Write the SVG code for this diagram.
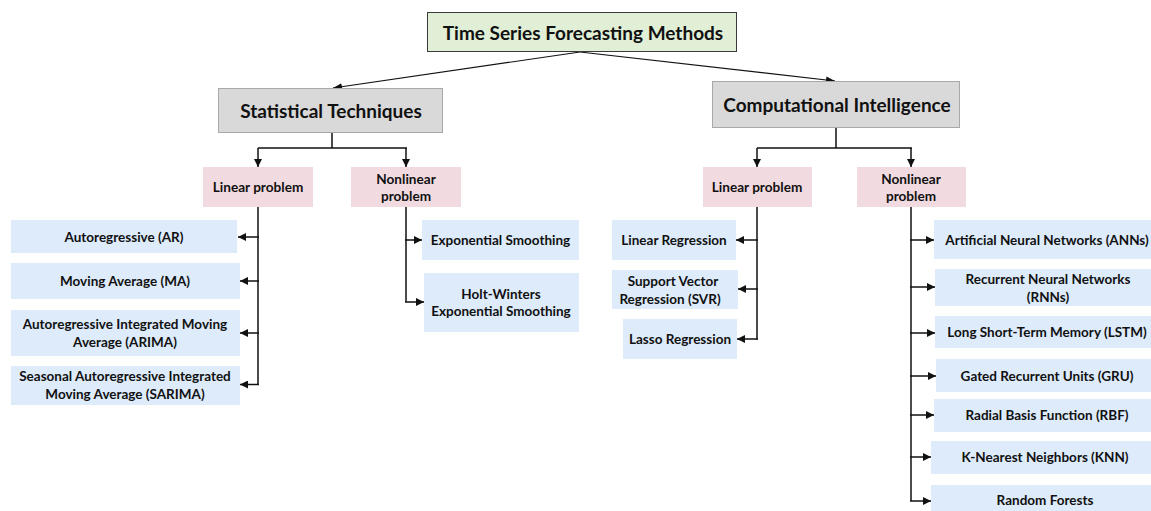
<svg xmlns="http://www.w3.org/2000/svg" width="1151" height="511" viewBox="0 0 1151 511">
<defs>
<style>
text{font-family:"Lato","Liberation Sans",sans-serif;font-weight:bold;fill:#111;text-anchor:middle;dominant-baseline:central}
.t{font-size:19px}
.h{font-size:19px}
.p{font-size:13.6px}
.l{font-size:13.5px}
.root{fill:#e0efd6;stroke:#3a3a3a;stroke-width:1}
.cat{fill:#d9d9d9;stroke:#a8a8a8;stroke-width:1}
.prob{fill:#f2dbe0}
.leaf{fill:#ddebfb}
.c{fill:none;stroke:#111;stroke-width:1.5}
.d{fill:none;stroke:#111;stroke-width:1.2}
</style>
<marker id="ah" viewBox="0 0 10 10" refX="10" refY="5" markerWidth="8" markerHeight="8" markerUnits="userSpaceOnUse" orient="auto">
<path d="M0,0 L10,5 L0,10 z" fill="#111"/>
</marker>
<marker id="as" viewBox="0 0 10 10" refX="10" refY="5" markerWidth="9" markerHeight="9" markerUnits="userSpaceOnUse" orient="auto">
<path d="M0,1 L10,5 L0,9 z" fill="#111"/>
</marker>
</defs>
<rect width="1151" height="511" fill="#fff"/>

<g id="connectors">
<path class="d" d="M580,52 L333,88" marker-end="url(#as)"/>
<path class="d" d="M580,52 L835,81" marker-end="url(#as)"/>
<path class="c" d="M332,133 V148 M258,148 H407"/>
<path class="c" d="M258,148 V167" marker-end="url(#ah)"/>
<path class="c" d="M406,148 V167" marker-end="url(#ah)"/>
<path class="c" d="M836,128 V148 M757,148 H912"/>
<path class="c" d="M757,148 V167" marker-end="url(#ah)"/>
<path class="c" d="M911,148 V167" marker-end="url(#ah)"/>
<path class="c" d="M258,207 V385"/>
<path class="c" d="M259,237 H238" marker-end="url(#ah)"/>
<path class="c" d="M259,281 H240" marker-end="url(#ah)"/>
<path class="c" d="M259,333 H240" marker-end="url(#ah)"/>
<path class="c" d="M259,384.5 H240" marker-end="url(#ah)"/>
<path class="c" d="M406,207 V302"/>
<path class="c" d="M405,240 H422" marker-end="url(#ah)"/>
<path class="c" d="M405,302 H424" marker-end="url(#ah)"/>
<path class="c" d="M757,207 V339.5"/>
<path class="c" d="M758,240 H736" marker-end="url(#ah)"/>
<path class="c" d="M758,289 H738" marker-end="url(#ah)"/>
<path class="c" d="M758,339 H737" marker-end="url(#ah)"/>
<path class="c" d="M911,207 V501"/>
<path class="c" d="M910,240 H934" marker-end="url(#ah)"/>
<path class="c" d="M910,287 H935" marker-end="url(#ah)"/>
<path class="c" d="M910,333 H935" marker-end="url(#ah)"/>
<path class="c" d="M910,376 H936" marker-end="url(#ah)"/>
<path class="c" d="M910,415 H934" marker-end="url(#ah)"/>
<path class="c" d="M910,457 H931" marker-end="url(#ah)"/>
<path class="c" d="M910,501 H931" marker-end="url(#ah)"/>
</g>

<g id="root"><rect class="root" x="427.5" y="12.5" width="309" height="39"/><text class="t" x="583" y="32">Time Series Forecasting Methods</text></g>

<g id="stat"><rect class="cat" x="218.5" y="88.5" width="224" height="44"/><text class="h" x="331" y="110.5">Statistical Techniques</text></g>
<g id="ci"><rect class="cat" x="712.5" y="81.5" width="247" height="46"/><text class="h" x="837" y="104.5">Computational Intelligence</text></g>

<g id="stat-linear"><rect class="prob" x="203" y="167" width="110" height="40"/><text class="p" x="258" y="187">Linear problem</text></g>
<g id="stat-nonlinear"><rect class="prob" x="351" y="167" width="110" height="40"/><text class="p" x="406" y="179">Nonlinear</text><text class="p" x="406" y="196">problem</text></g>
<g id="ci-linear"><rect class="prob" x="703" y="167" width="109" height="40"/><text class="p" x="757" y="187">Linear problem</text></g>
<g id="ci-nonlinear"><rect class="prob" x="857" y="167" width="109" height="40"/><text class="p" x="911" y="179">Nonlinear</text><text class="p" x="911" y="196">problem</text></g>

<g id="ar"><rect class="leaf" x="11" y="220" width="226" height="33"/><text class="l" x="124" y="237">Autoregressive (AR)</text></g>
<g id="ma"><rect class="leaf" x="11" y="263" width="229" height="36"/><text class="l" x="125" y="281">Moving Average (MA)</text></g>
<g id="arima"><rect class="leaf" x="11" y="310" width="229" height="46"/><text class="l" x="125" y="324">Autoregressive Integrated Moving</text><text class="l" x="125" y="342">Average (ARIMA)</text></g>
<g id="sarima"><rect class="leaf" x="11" y="366" width="229" height="39"/><text class="l" x="125" y="376">Seasonal Autoregressive Integrated</text><text class="l" x="125" y="394">Moving Average (SARIMA)</text></g>

<g id="es"><rect class="leaf" x="422" y="220" width="157" height="40"/><text class="l" x="500.5" y="240">Exponential Smoothing</text></g>
<g id="hw"><rect class="leaf" x="424" y="273" width="155" height="59"/><text class="l" x="501" y="294">Holt-Winters</text><text class="l" x="501" y="311">Exponential Smoothing</text></g>

<g id="lr"><rect class="leaf" x="612" y="220" width="124" height="40"/><text class="l" x="674" y="240">Linear Regression</text></g>
<g id="svr"><rect class="leaf" x="612" y="270" width="126" height="39"/><text class="l" x="673" y="281">Support Vector</text><text class="l" x="670" y="299">Regression (SVR)</text></g>
<g id="lasso"><rect class="leaf" x="623" y="319" width="114" height="40"/><text class="l" x="680" y="339">Lasso Regression</text></g>

<g id="ann"><rect class="leaf" x="934" y="220" width="230" height="39"/><text class="l" x="1047" y="240">Artificial Neural Networks (ANNs)</text></g>
<g id="rnn"><rect class="leaf" x="935" y="269" width="230" height="37"/><text class="l" x="1048" y="279">Recurrent Neural Networks</text><text class="l" x="1048" y="297">(RNNs)</text></g>
<g id="lstm"><rect class="leaf" x="935" y="316" width="230" height="32"/><text class="l" x="1047" y="332">Long Short-Term Memory (LSTM)</text></g>
<g id="gru"><rect class="leaf" x="936" y="359" width="230" height="33"/><text class="l" x="1047" y="376">Gated Recurrent Units (GRU)</text></g>
<g id="rbf"><rect class="leaf" x="934" y="399" width="230" height="33"/><text class="l" x="1047" y="415">Radial Basis Function (RBF)</text></g>
<g id="knn"><rect class="leaf" x="931" y="441" width="230" height="33"/><text class="l" x="1045" y="457">K-Nearest Neighbors (KNN)</text></g>
<g id="rf"><rect class="leaf" x="931" y="485" width="230" height="30"/><text class="l" x="1045" y="500">Random Forests</text></g>
</svg>
